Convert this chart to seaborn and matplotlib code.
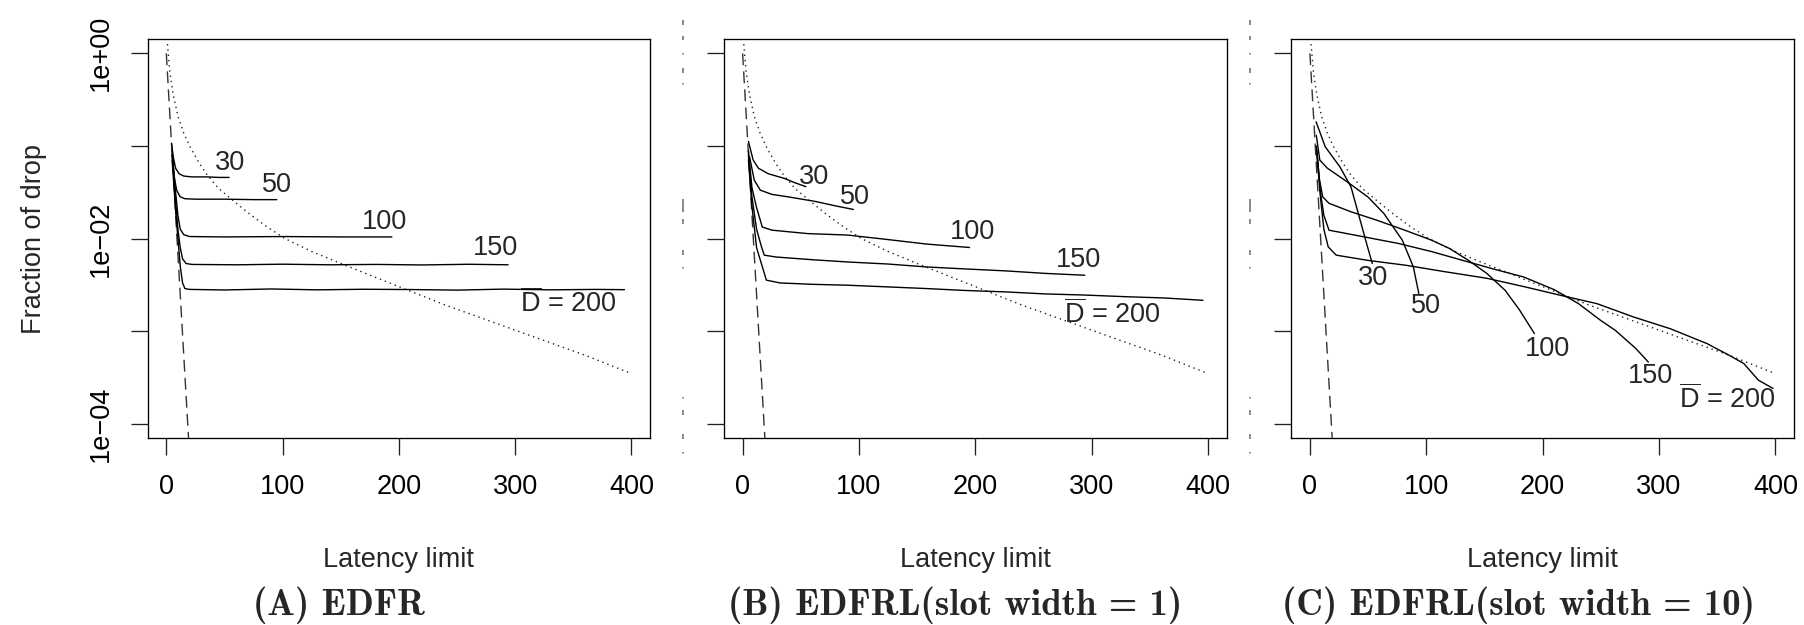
import numpy as np
import pandas as pd
import matplotlib
matplotlib.use("Agg")
import matplotlib.pyplot as plt
import seaborn as sns
from matplotlib.lines import Line2D
from matplotlib.ticker import NullLocator

# ---------------- data ----------------
x_ticks = [0, 100, 200, 300, 400]
y_ticks = [1.0, 0.1, 0.01, 0.001, 0.0001]
y_tick_labels = ["1e+00", "", "1e\u221202", "", "1e\u221204"]
deadlines = ["30", "50", "100", "150", "200"]
panel_titles = ["(A) EDFR", "(B) EDFRL(slot width = 1)", "(C) EDFRL(slot width = 10)"]
x_label = "Latency limit"
y_label = "Fraction of drop"

# reference curves shared by all panels
dotted_x = [1, 3, 6, 10, 15, 20, 28, 35, 45, 56, 70, 85, 102, 125, 154, 180, 206, 240, 280, 320, 360, 400]
dotted_y = [1.26, 0.631, 0.355, 0.209, 0.138, 0.1, 0.0661, 0.049, 0.0347, 0.0266, 0.0191, 0.0138,
            0.01, 0.00724, 0.00513, 0.0038, 0.00282, 0.00191, 0.00126, 0.000832, 0.00055, 0.000347]
dashed_x = [0, 20]
dashed_y = [1.0, 0.000045]

# (A) EDFR
a30_x = [4.5, 6, 8, 11, 15, 22, 35, 45, 54]
a30_y = [0.107, 0.0759, 0.0575, 0.0501, 0.0473, 0.0463, 0.0463, 0.0457, 0.0457]
a50_x = [5, 7, 9, 12, 16, 25, 50, 75, 95]
a50_y = [0.0794, 0.0447, 0.0331, 0.0282, 0.0269, 0.0266, 0.0266, 0.0263, 0.0263]
a100_x = [5, 8, 10, 12, 15, 20, 50, 100, 150, 194]
a100_y = [0.0891, 0.0316, 0.0178, 0.0126, 0.0110, 0.0105, 0.0104, 0.0105, 0.0104, 0.0104]
a150_x = [5, 8, 10, 12, 14, 17, 22, 60, 100, 140, 180, 220, 260, 294]
a150_y = [0.0794, 0.0251, 0.0126, 0.00794, 0.00603, 0.00537, 0.00525, 0.0052, 0.00528, 0.0052,
          0.00525, 0.00518, 0.00527, 0.0052]
a200_x = [5, 8, 10, 12, 14, 16, 20, 50, 90, 130, 170, 210, 250, 290, 330, 370, 394]
a200_y = [0.0708, 0.02, 0.01, 0.00501, 0.00331, 0.00288, 0.00282, 0.00278, 0.00285, 0.00279,
          0.00283, 0.00281, 0.00277, 0.00284, 0.00279, 0.00282, 0.0028]
a_label_x = [54.6, 95.4, 187.5, 282.7, 346]
a_label_y = [0.065, 0.0377, 0.0151, 0.0078, 0.00198]

# (B) EDFRL slot width 1
b30_x = [5, 9, 13.5, 22, 35.6, 45, 54.4]
b30_y = [0.112, 0.0708, 0.0575, 0.0501, 0.0447, 0.0400, 0.0363]
b50_x = [6, 10, 15.2, 25, 39, 62.8, 80, 95.2]
b50_y = [0.0759, 0.0427, 0.0333, 0.0300, 0.0282, 0.0251, 0.0225, 0.0206]
b100_x = [5, 8, 11.8, 16.9, 25.4, 56, 90, 124, 158, 195]
b100_y = [0.0891, 0.0355, 0.022, 0.0133, 0.0123, 0.0113, 0.0109, 0.00977, 0.00871, 0.008]
b150_x = [5, 8, 12, 16.2, 18.6, 28.8, 60, 90, 125, 158, 190, 226, 260, 294]
b150_y = [0.0794, 0.0282, 0.0126, 0.00813, 0.00661, 0.00631, 0.0059, 0.00558, 0.0053, 0.00493,
          0.0047, 0.00447, 0.0042, 0.00401]
b200_x = [5, 8, 12, 17, 20.4, 32.3, 60, 90, 125, 158, 190, 226, 260, 294, 330, 362, 395.6]
b200_y = [0.0708, 0.0224, 0.00794, 0.00493, 0.00355, 0.00331, 0.0032, 0.00313, 0.003, 0.00288,
          0.00275, 0.00265, 0.00252, 0.00245, 0.00235, 0.00228, 0.00215]
b_label_x = [61, 96.9, 197.2, 289, 318]
b_label_y = [0.0464, 0.0282, 0.0117, 0.00593, 0.00152]

# (C) EDFRL slot width 10
c30_x = [5.3, 13.2, 25.8, 35.3, 41.6, 49.5, 53.6]
c30_y = [0.182, 0.0977, 0.0594, 0.0361, 0.0186, 0.00813, 0.00537]
c50_x = [5.5, 8.5, 15, 32.1, 50, 63.6, 79.4, 88.9, 93.6]
c50_y = [0.13, 0.0703, 0.0575, 0.0409, 0.028, 0.0186, 0.00959, 0.00493, 0.00254]
c100_x = [5.5, 8, 11, 16.4, 35, 57.3, 80, 104.6, 120, 136.1, 152, 167.7, 180, 192.9]
c100_y = [0.1, 0.0447, 0.0282, 0.024, 0.0195, 0.0158, 0.0125, 0.00959, 0.0078, 0.00582,
          0.0042, 0.00276, 0.0017, 0.00094]
c150_x = [6, 9, 12, 16.4, 40, 76.3, 105, 136.1, 160, 183.5, 210, 230.8, 250, 262.4, 280, 290.8]
c150_y = [0.09, 0.0316, 0.0178, 0.0123, 0.0108, 0.00883, 0.0072, 0.00558, 0.0046, 0.00385,
          0.0028, 0.00198, 0.0013, 0.00102, 0.00065, 0.000463]
c200_x = [6, 9, 12, 15.7, 22.6, 50, 82.5, 115, 151.9, 185, 215, 246.6, 278.1, 309.7, 341.2,
          360, 372.8, 385.4, 398]
c200_y = [0.08, 0.0282, 0.0126, 0.00813, 0.00661, 0.0058, 0.00514, 0.0044, 0.00372, 0.003,
          0.00244, 0.00198, 0.00142, 0.00106, 0.000733, 0.00055, 0.000447, 0.000295, 0.00024]
c_label_x = [54.2, 100, 204, 292.4, 358.6]
c_label_y = [0.00372, 0.00186, 0.000646, 0.000331, 0.000186]

panels = [
    ([(a30_x, a30_y), (a50_x, a50_y), (a100_x, a100_y), (a150_x, a150_y), (a200_x, a200_y)],
     a_label_x, a_label_y),
    ([(b30_x, b30_y), (b50_x, b50_y), (b100_x, b100_y), (b150_x, b150_y), (b200_x, b200_y)],
     b_label_x, b_label_y),
    ([(c30_x, c30_y), (c50_x, c50_y), (c100_x, c100_y), (c150_x, c150_y), (c200_x, c200_y)],
     c_label_x, c_label_y),
]

# ---------------- style ----------------
sns.set_style("ticks")
plt.rcParams["font.family"] = ["Liberation Sans", "DejaVu Sans"]
plt.rcParams["mathtext.fontset"] = "custom"
plt.rcParams["mathtext.rm"] = "Liberation Sans"
plt.rcParams["mathtext.it"] = "Liberation Sans:italic"
plt.rcParams["mathtext.bf"] = "Liberation Sans:bold"
plt.rcParams["axes.edgecolor"] = "black"
plt.rcParams["xtick.color"] = "#222222"
plt.rcParams["ytick.color"] = "#222222"
plt.rcParams["xtick.labelcolor"] = "black"
plt.rcParams["ytick.labelcolor"] = "black"

FS = 19.5
W, H = 1804, 625
fig = plt.figure(figsize=(W / 100, H / 100), dpi=100)


def rect(l, t, r, b):
    return [l / W, 1 - b / H, (r - l) / W, (b - t) / H]


axes_px = [(147.7, 39.3, 650, 438), (724, 39.3, 1226.7, 438), (1291.3, 39.3, 1794, 438)]
title_cx = [338.5, 955, 1518.5]

for i, (series, lx, ly) in enumerate(panels):
    ax = fig.add_axes(rect(*axes_px[i]))
    ax.set_yscale("log")
    sns.lineplot(x=dotted_x, y=dotted_y, ax=ax, color="#222222", linewidth=1.0,
                 linestyle=(0, (1.0, 2.8)), estimator=None, sort=False)
    sns.lineplot(x=dashed_x, y=dashed_y, ax=ax, color="#333333", linewidth=1.0,
                 linestyle=(0, (8.5, 4.5)), estimator=None, sort=False)
    for sx, sy in series:
        sns.lineplot(x=sx, y=sy, ax=ax, color="black", linewidth=1.0,
                     estimator=None, sort=False)
    for k, name in enumerate(deadlines):
        txt = name if name != "200" else r"$\overline{\mathrm{D}}$ = 200"
        ax.text(lx[k], ly[k], txt, ha="center", va="center", fontsize=FS)

    ax.set_xlim(-16, 416)
    ax.set_ylim(10 ** -4.155, 10 ** 0.152)
    ax.set_xticks(x_ticks)
    ax.set_xticklabels([str(v) for v in x_ticks])
    ax.set_yticks(y_ticks)
    ax.yaxis.set_minor_locator(NullLocator())
    ax.set_yticklabels(y_tick_labels if i == 0 else [""] * len(y_ticks))
    ax.tick_params(axis="both", direction="out", length=12.2, width=0.95, labelsize=FS)
    ax.tick_params(axis="x", pad=14)
    ax.tick_params(axis="y", pad=12)
    plt.setp(ax.get_yticklabels(), rotation=90, va="center")
    for sp in ax.spines.values():
        sp.set_linewidth(0.95)
        sp.set_visible(True)

    ax.set_xlabel(x_label, fontsize=FS)
    ax.xaxis.set_label_coords(0.5, (438 - 560) / 398.7)
    ax.xaxis.label.set_va("center")
    if i == 0:
        ax.set_ylabel(y_label, fontsize=FS)
        ax.yaxis.set_label_coords((34.5 - 147.7) / 502.3, 0.5)
        ax.yaxis.label.set_va("center")
    else:
        ax.set_ylabel("")

    fig.text(title_cx[i] / W, 1 - 615 / H, panel_titles[i],
             family=["cmb10", "DejaVu Serif"], fontsize=26.5, ha="center", va="baseline")

# separators between panels (irregular gray dash-dot marks, lengths in px)
plt.rcParams["lines.scale_dashes"] = False
sep_marks_px = [5, 11, 4, 13, 1.5, 13.5, 5, 10, 1.5, 114.5, 13, 7, 5, 26, 5, 12, 1.5, 128.5,
                1.5, 11.5, 5, 19, 5, 13, 1.5, 60]
sep_dash = (0, [v * 0.72 for v in sep_marks_px])
for sx in (683.3, 1250):
    fig.add_artist(Line2D([sx / W, sx / W], [1 - 20 / H, 1 - 456 / H], transform=fig.transFigure,
                          color="#8a8a8a", linewidth=1.4, linestyle=sep_dash))

fig.savefig("out.png", dpi=100)
